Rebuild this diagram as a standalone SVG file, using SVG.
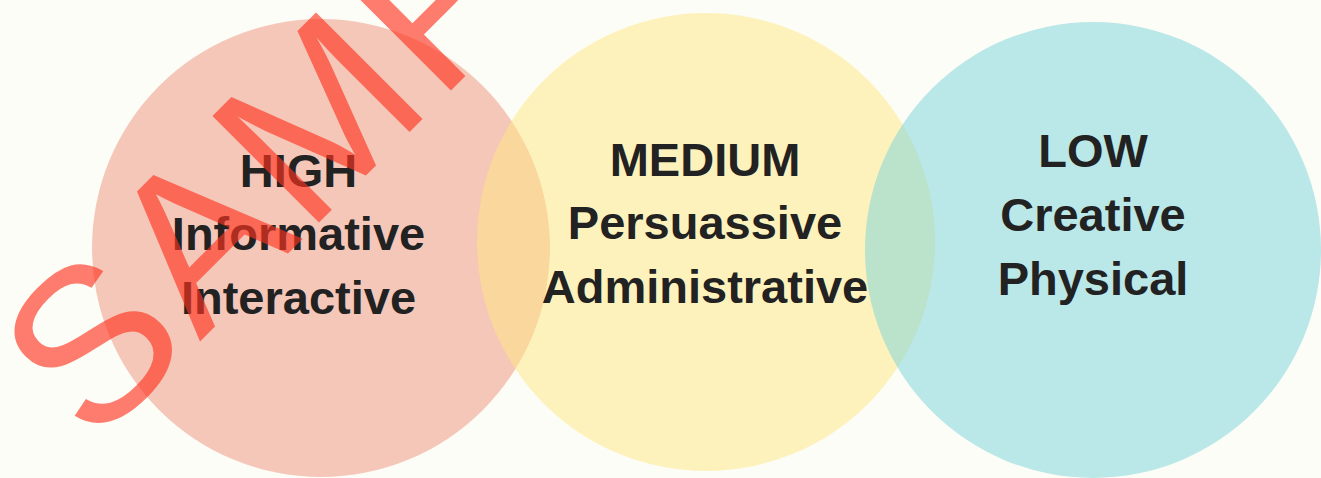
<svg xmlns="http://www.w3.org/2000/svg" width="1321" height="478" viewBox="0 0 1321 478">
  <style>
    .circle { opacity: 0.5; }
    .label { font-family: "Liberation Sans", Arial, sans-serif; font-weight: bold; font-size: 47px; fill: #222222; text-anchor: middle; }
    .watermark { font-family: "Liberation Sans", Arial, sans-serif; font-size: 219px; fill: #ff3420; opacity: 0.64; letter-spacing: 4.5px; }
  </style>
  <rect x="0" y="0" width="1321" height="478" fill="#fdfdf7"/>
  <g id="node-high">
    <circle class="circle" cx="321" cy="248" r="229" fill="#ee927c"/>
  </g>
  <g id="node-medium">
    <circle class="circle" cx="706" cy="242" r="229" fill="#ffe882"/>
  </g>
  <g id="node-low">
    <circle class="circle" cx="1093" cy="250" r="228" fill="#78d2d8"/>
  </g>
  <g id="labels">
    <text class="label" x="298.5" y="186.7">HIGH</text>
    <text class="label" x="298.5" y="250.3">Informative</text>
    <text class="label" x="298.5" y="313.8">Interactive</text>
    <text class="label" x="705" y="175.7">MEDIUM</text>
    <text class="label" x="705" y="239">Persuassive</text>
    <text class="label" x="705" y="303.3">Administrative</text>
    <text class="label" x="1093" y="166.7">LOW</text>
    <text class="label" x="1093" y="230.7">Creative</text>
    <text class="label" x="1093" y="294.7">Physical</text>
  </g>
  <g id="connectors"></g>
  <text class="watermark" transform="translate(93.25,448.25) rotate(-45)" x="0" y="0">SAMPLE</text>
</svg>
